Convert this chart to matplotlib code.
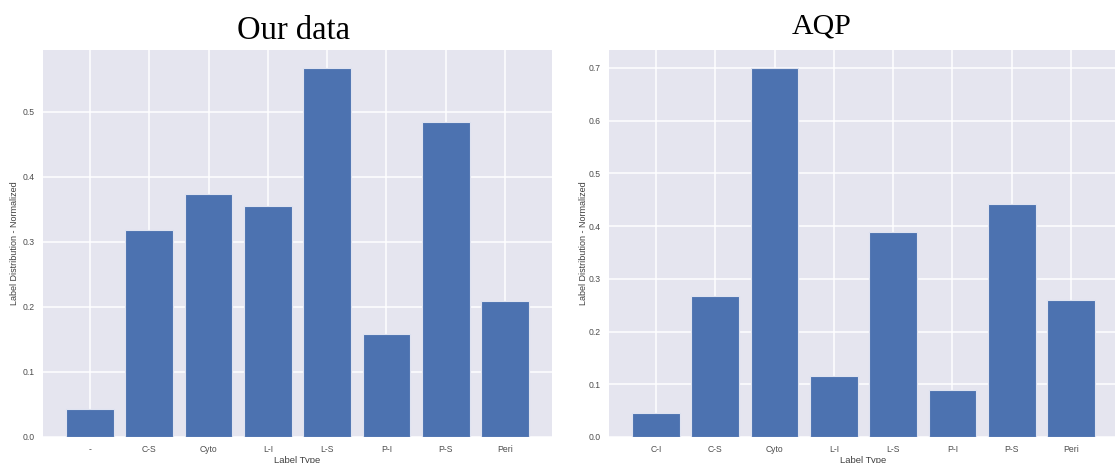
import matplotlib
matplotlib.use("Agg")
import matplotlib.pyplot as plt

plt.style.use("seaborn-v0_8")
plt.rcParams["font.family"] = ["Liberation Sans", "DejaVu Sans"]

# Normalized label distributions
ours_labels = ["-", "C-S", "Cyto", "L-I", "L-S", "P-I", "P-S", "Peri"]
ours_values = [0.043, 0.318, 0.374, 0.355, 0.567, 0.158, 0.485, 0.209]

aqp_labels = ["C-I", "C-S", "Cyto", "L-I", "L-S", "P-I", "P-S", "Peri"]
aqp_values = [0.046, 0.268, 0.699, 0.116, 0.389, 0.089, 0.442, 0.260]

W, H = 1115, 463
fig = plt.figure(figsize=(W / 100, H / 100), dpi=100)
fig.patch.set_facecolor("white")

bar_color = "#4C72B0"
tick_fs = 6.2


def panel(rect, labels, values, yticks, ylabel_pad):
    ax = fig.add_axes(rect)
    x = list(range(len(labels)))
    ax.bar(x, values, width=0.8, color=bar_color, edgecolor="#dfe3f0", linewidth=0.8, zorder=2)
    ax.set_xticks(x)
    ax.set_xticklabels(labels, fontsize=tick_fs, color="0.3")
    ax.set_yticks(yticks)
    ax.set_yticklabels([f"{t:.1f}" for t in yticks], fontsize=tick_fs, color="0.3")
    ax.set_xlabel("Label Type", fontsize=6.8, color="0.25", labelpad=1)
    ax.set_ylabel("Label Distribution - Normalized", fontsize=6.5, color="0.25",
                  labelpad=ylabel_pad)
    ax.tick_params(axis="x", pad=6)
    ax.tick_params(axis="y", pad=6)
    ax.set_facecolor("#E5E5EF")
    ax.grid(True, color="white", linewidth=1.1)
    ax.set_axisbelow(True)
    return ax


bottom = (H - 437) / H
top = (H - 50) / H
ax1 = panel([43 / W, bottom, 509 / W, top - bottom], ours_labels, ours_values,
            [0.0, 0.1, 0.2, 0.3, 0.4, 0.5], 2.5)
ax2 = panel([609 / W, bottom, 509 / W, top - bottom], aqp_labels, aqp_values,
            [0.0, 0.1, 0.2, 0.3, 0.4, 0.5, 0.6, 0.7], 0.5)

fig.text(293 / W, (H - 39) / H, "Our data", ha="center", va="baseline",
         fontsize=23.5, family=["Liberation Serif", "DejaVu Serif"], color="black")
fig.text(822 / W, (H - 33) / H, "AQP", ha="center", va="baseline",
         fontsize=21.5, family=["Liberation Serif", "DejaVu Serif"], color="black")

fig.savefig("out.png", dpi=100, facecolor="white")
